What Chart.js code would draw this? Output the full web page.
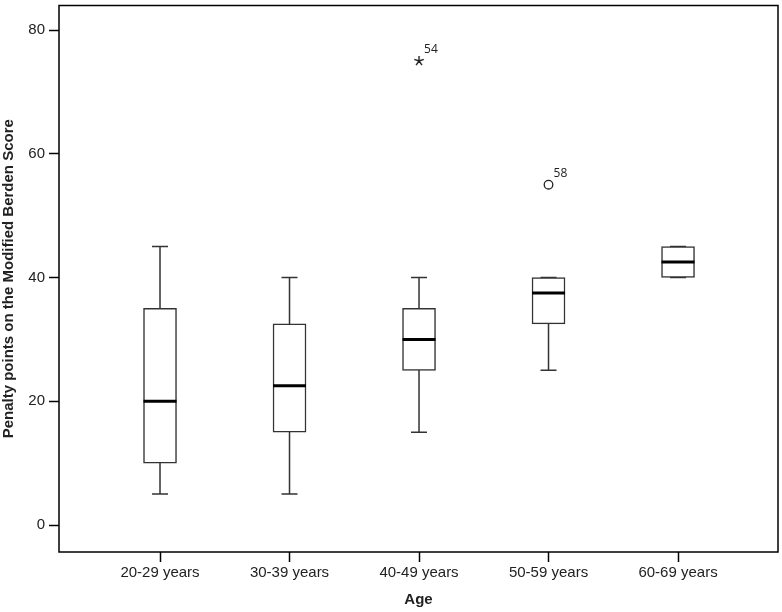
<!DOCTYPE html>
<html>
<head>
<meta charset="utf-8">
<script src="https://cdn.jsdelivr.net/npm/chart.js@4/dist/chart.umd.min.js"></script>
<style>
  body { margin: 0; background: #fff; }
  canvas { display: block; }
</style>
</head>
<body>
<canvas id="box-chart" width="782" height="612"></canvas>
<script>
// boxplot values per age group
const ageGroups = ['20-29 years', '30-39 years', '40-49 years', '50-59 years', '60-69 years'];
const whiskerLow = [5, 5, 15, 25, 40];
const q1 = [10, 15, 25, 32.5, 40];
const median = [20, 22.5, 30, 37.5, 42.5];
const q3 = [35, 32.5, 35, 40, 45];
const whiskerHigh = [45, 40, 40, 40, 45];

// outliers: group index (1-based), value, case number, kind
const outlierGroup = [3, 4];
const outlierValue = [75, 55];
const outlierCase = ['54', '58'];
const outlierKind = ['extreme', 'outlier'];

const yTicks = [0, 20, 40, 60, 80];

const lineColor = '#333';
const fontFamily = '"Liberation Sans", Arial, sans-serif';

// little 5-arm asterisk for extreme values
function makeAsterisk() {
    const c = document.createElement('canvas');
    c.width = 12; c.height = 12;
    const g = c.getContext('2d');
    g.strokeStyle = '#222';
    g.lineWidth = 1.4;
    g.beginPath();
    for (let k = 0; k < 5; k++) {
        const a = -Math.PI / 2 + k * 2 * Math.PI / 5;
        g.moveTo(6, 6);
        g.lineTo(6 + 5 * Math.cos(a), 6 + 5 * Math.sin(a));
    }
    g.stroke();
    return c;
}
const asterisk = makeAsterisk();

const boxParts = {
    id: 'boxParts',
    beforeDatasetsDraw(chart) {
        const { ctx } = chart;
        const x = chart.scales.x, y = chart.scales.y;
        ctx.save();
        ctx.strokeStyle = lineColor;
        ctx.lineWidth = 1.5;
        ageGroups.forEach((g, i) => {
            const cx = x.getPixelForValue(i + 1);
            const lo = y.getPixelForValue(whiskerLow[i]);
            const hi = y.getPixelForValue(whiskerHigh[i]);
            ctx.beginPath();
            ctx.moveTo(cx, lo);
            ctx.lineTo(cx, hi);
            ctx.moveTo(cx - 8, lo);
            ctx.lineTo(cx + 8, lo);
            ctx.moveTo(cx - 8, hi);
            ctx.lineTo(cx + 8, hi);
            ctx.stroke();
        });
        ctx.restore();
    },
    afterDatasetsDraw(chart) {
        const { ctx, chartArea } = chart;
        const x = chart.scales.x, y = chart.scales.y;
        ctx.save();
        // medians
        ctx.strokeStyle = '#000';
        ctx.lineWidth = 3;
        ageGroups.forEach((g, i) => {
            const cx = x.getPixelForValue(i + 1);
            const my = y.getPixelForValue(median[i]);
            ctx.beginPath();
            ctx.moveTo(cx - 16.5, my);
            ctx.lineTo(cx + 16.5, my);
            ctx.stroke();
        });
        // case labels
        ctx.fillStyle = '#222';
        ctx.font = '12px "Open Sans", sans-serif';
        ctx.textBaseline = 'alphabetic';
        outlierCase.forEach((c, i) => {
            const px = x.getPixelForValue(outlierGroup[i]);
            const py = y.getPixelForValue(outlierValue[i]);
            ctx.fillText(c, px + 5, py - 8);
        });
        // frame
        ctx.strokeStyle = '#000';
        ctx.lineWidth = 1.5;
        ctx.strokeRect(chartArea.left, chartArea.top, chartArea.right - chartArea.left, chartArea.bottom - chartArea.top);
        ctx.restore();
    }
};

new Chart(document.getElementById('box-chart'), {
    type: 'bar',
    data: {
        datasets: [{
            data: ageGroups.map((g, i) => ({ x: i + 1, y: [q1[i], q3[i]] })),
            backgroundColor: '#fff',
            borderColor: lineColor,
            borderWidth: 1.5,
            borderSkipped: false,
            barThickness: 33
        }, {
            type: 'scatter',
            data: outlierValue.map((v, i) => ({ x: outlierGroup[i], y: v })),
            pointStyle: outlierKind.map(k => k === 'extreme' ? asterisk : 'circle'),
            pointRadius: 4.3,
            borderColor: '#222',
            borderWidth: 1.3,
            backgroundColor: 'rgba(0,0,0,0)'
        }]
    },
    plugins: [boxParts],
    options: {
        responsive: false,
        devicePixelRatio: 1,
        animation: false,
        layout: { autoPadding: false, padding: { top: 0, right: 4, left: 0, bottom: 0 } },
        plugins: {
            legend: { display: false },
            tooltip: { enabled: false }
        },
        scales: {
            x: {
                type: 'linear',
                min: 0.22,
                max: 5.772,
                offset: false,
                afterBuildTicks: (scale) => { scale.ticks = ageGroups.map((g, i) => ({ value: i + 1 })); },
                afterFit: (scale) => { scale.height = 60; },
                grid: { display: true, drawOnChartArea: false, offset: false, tickLength: 10, tickColor: '#000', tickWidth: 1.5 },
                border: { display: false },
                ticks: {
                    padding: 2,
                    color: '#222',
                    font: { family: fontFamily, size: 15 },
                    maxRotation: 0,
                    callback: (v) => ageGroups[v - 1]
                },
                title: {
                    display: true,
                    text: 'Age',
                    color: '#222',
                    padding: { top: 0, bottom: 3 },
                    font: { family: fontFamily, size: 15, weight: 'bold' }
                }
            },
            y: {
                min: -4.36,
                max: 83.96,
                afterBuildTicks: (scale) => { scale.ticks = yTicks.map(v => ({ value: v })); },
                afterFit: (scale) => { scale.width = 59; },
                grid: { display: true, drawOnChartArea: false, tickLength: 10, tickColor: '#000', tickWidth: 1.5 },
                border: { display: false },
                ticks: {
                    padding: 4,
                    color: '#222',
                    font: { family: fontFamily, size: 15, lineHeight: 0.2 }
                },
                title: {
                    display: true,
                    text: 'Penalty points on the Modified Berden Score',
                    color: '#222',
                    padding: 0,
                    font: { family: fontFamily, size: 15, weight: 'bold' }
                }
            }
        }
    }
});
</script>
</body>
</html>
